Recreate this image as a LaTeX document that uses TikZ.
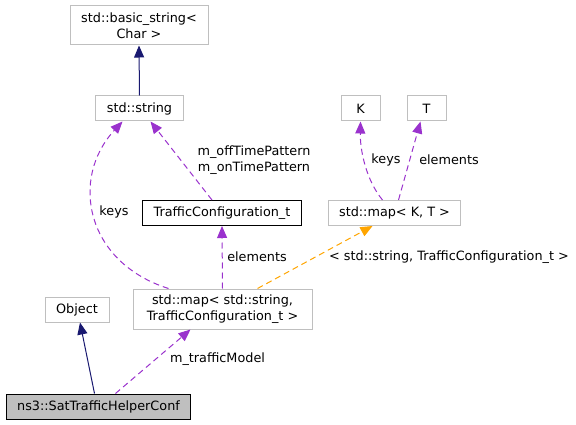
\documentclass[tikz,border=0pt]{standalone}
\usepackage{fontspec}
\setmainfont{DejaVu Sans}
\usetikzlibrary{arrows.meta}
\definecolor{usecol}{HTML}{9A32CD}
\definecolor{inhcol}{HTML}{191970}
\definecolor{tplcol}{HTML}{FFA500}
\definecolor{boxcol}{HTML}{BFBFBF}

\begin{document}
\begin{tikzpicture}[x=1pt,y=1pt,>={Triangle[length=12pt,width=10pt]},
  cls/.style={draw=boxcol,line width=1pt,fill=white,inner xsep=11pt,inner ysep=2pt,
    minimum height=25pt,font=\fontsize{12.8}{15.5}\selectfont,align=center},
  lbl/.style={font=\fontsize{12.8}{15.5}\selectfont,align=center,inner sep=0pt},
  member/.style={->,draw=usecol,line width=1pt,dash pattern=on 6pt off 4pt},
  tpl/.style={->,draw=tplcol,line width=1pt,dash pattern=on 6pt off 4pt},
  inherit/.style={->,draw=inhcol,line width=1pt}]
  \useasboundingbox (0,0) rectangle (576,-425);
  % ---------- classes
  \node[cls,minimum width=138pt,minimum height=39pt] (basic) at (139,-25.5) {std::basic\_string<\\Char >};
  \node[cls] (string) at (139.5,-108.5) {std::string};
  \node[cls,minimum width=39pt] (K) at (360.5,-108.5) {K};
  \node[cls,minimum width=39pt] (T) at (426.5,-108.5) {T};
  \node[cls] (mapKT) at (394.5,-213) {std::map< K, T >};
  \node[cls,draw=black] (traffic) at (222,-213) {TrafficConfiguration\_t};
  \node[cls,minimum width=179pt,minimum height=40pt] (mapstr) at (222.5,-309) {std::map< std::string,\\ TrafficConfiguration\_t >};
  \node[cls,minimum width=64pt] (obj) at (77,-309.5) {Object};
  \node[cls,draw=black,fill=boxcol] (helper) at (98.5,-406.5) {ns3::SatTrafficHelperConf};
  % ---------- relations
  \draw[inherit] (string.north) -- (basic.south);
  \draw[inherit] ([xshift=-4pt]helper.north) -- ([xshift=3pt]obj.south);
  \draw[member] ([xshift=-54pt]mapstr.north) .. controls (85,-262) and (70,-178) .. ([xshift=-17pt]string.south);
  \draw[member] ([xshift=-10pt]traffic.north) -- ([xshift=11pt]string.south);
  \draw[member] (mapstr.north) -- (traffic.south);
  \draw[tpl] ([xshift=35pt]mapstr.north) -- ([xshift=-22pt]mapKT.south);
  \draw[member] ([xshift=-12pt]mapKT.north) .. controls (366,-180) and (360,-150) .. (K.south);
  \draw[member] ([xshift=4pt]mapKT.north) -- ([xshift=-6pt]T.south);
  \draw[member] ([xshift=17pt]helper.north) -- ([xshift=-32pt]mapstr.south);
  % ---------- labels
  \node[lbl] (lkeys) at (114,-212) {keys};
  \node[lbl] (lpattern) at (254,-160) {m\_offTimePattern\\m\_onTimePattern};
  \node[lbl] (lelem) at (257,-257) {elements};
  \node[lbl] (ltpl) at (449,-257) {< std::string, TrafficConfiguration\_t >};
  \node[lbl] (lkeysK) at (386,-160) {keys};
  \node[lbl] (lelemT) at (449,-160) {elements};
  \node[lbl] (lmodel) at (217.5,-359) {m\_trafficModel};
\end{tikzpicture}
\end{document}
